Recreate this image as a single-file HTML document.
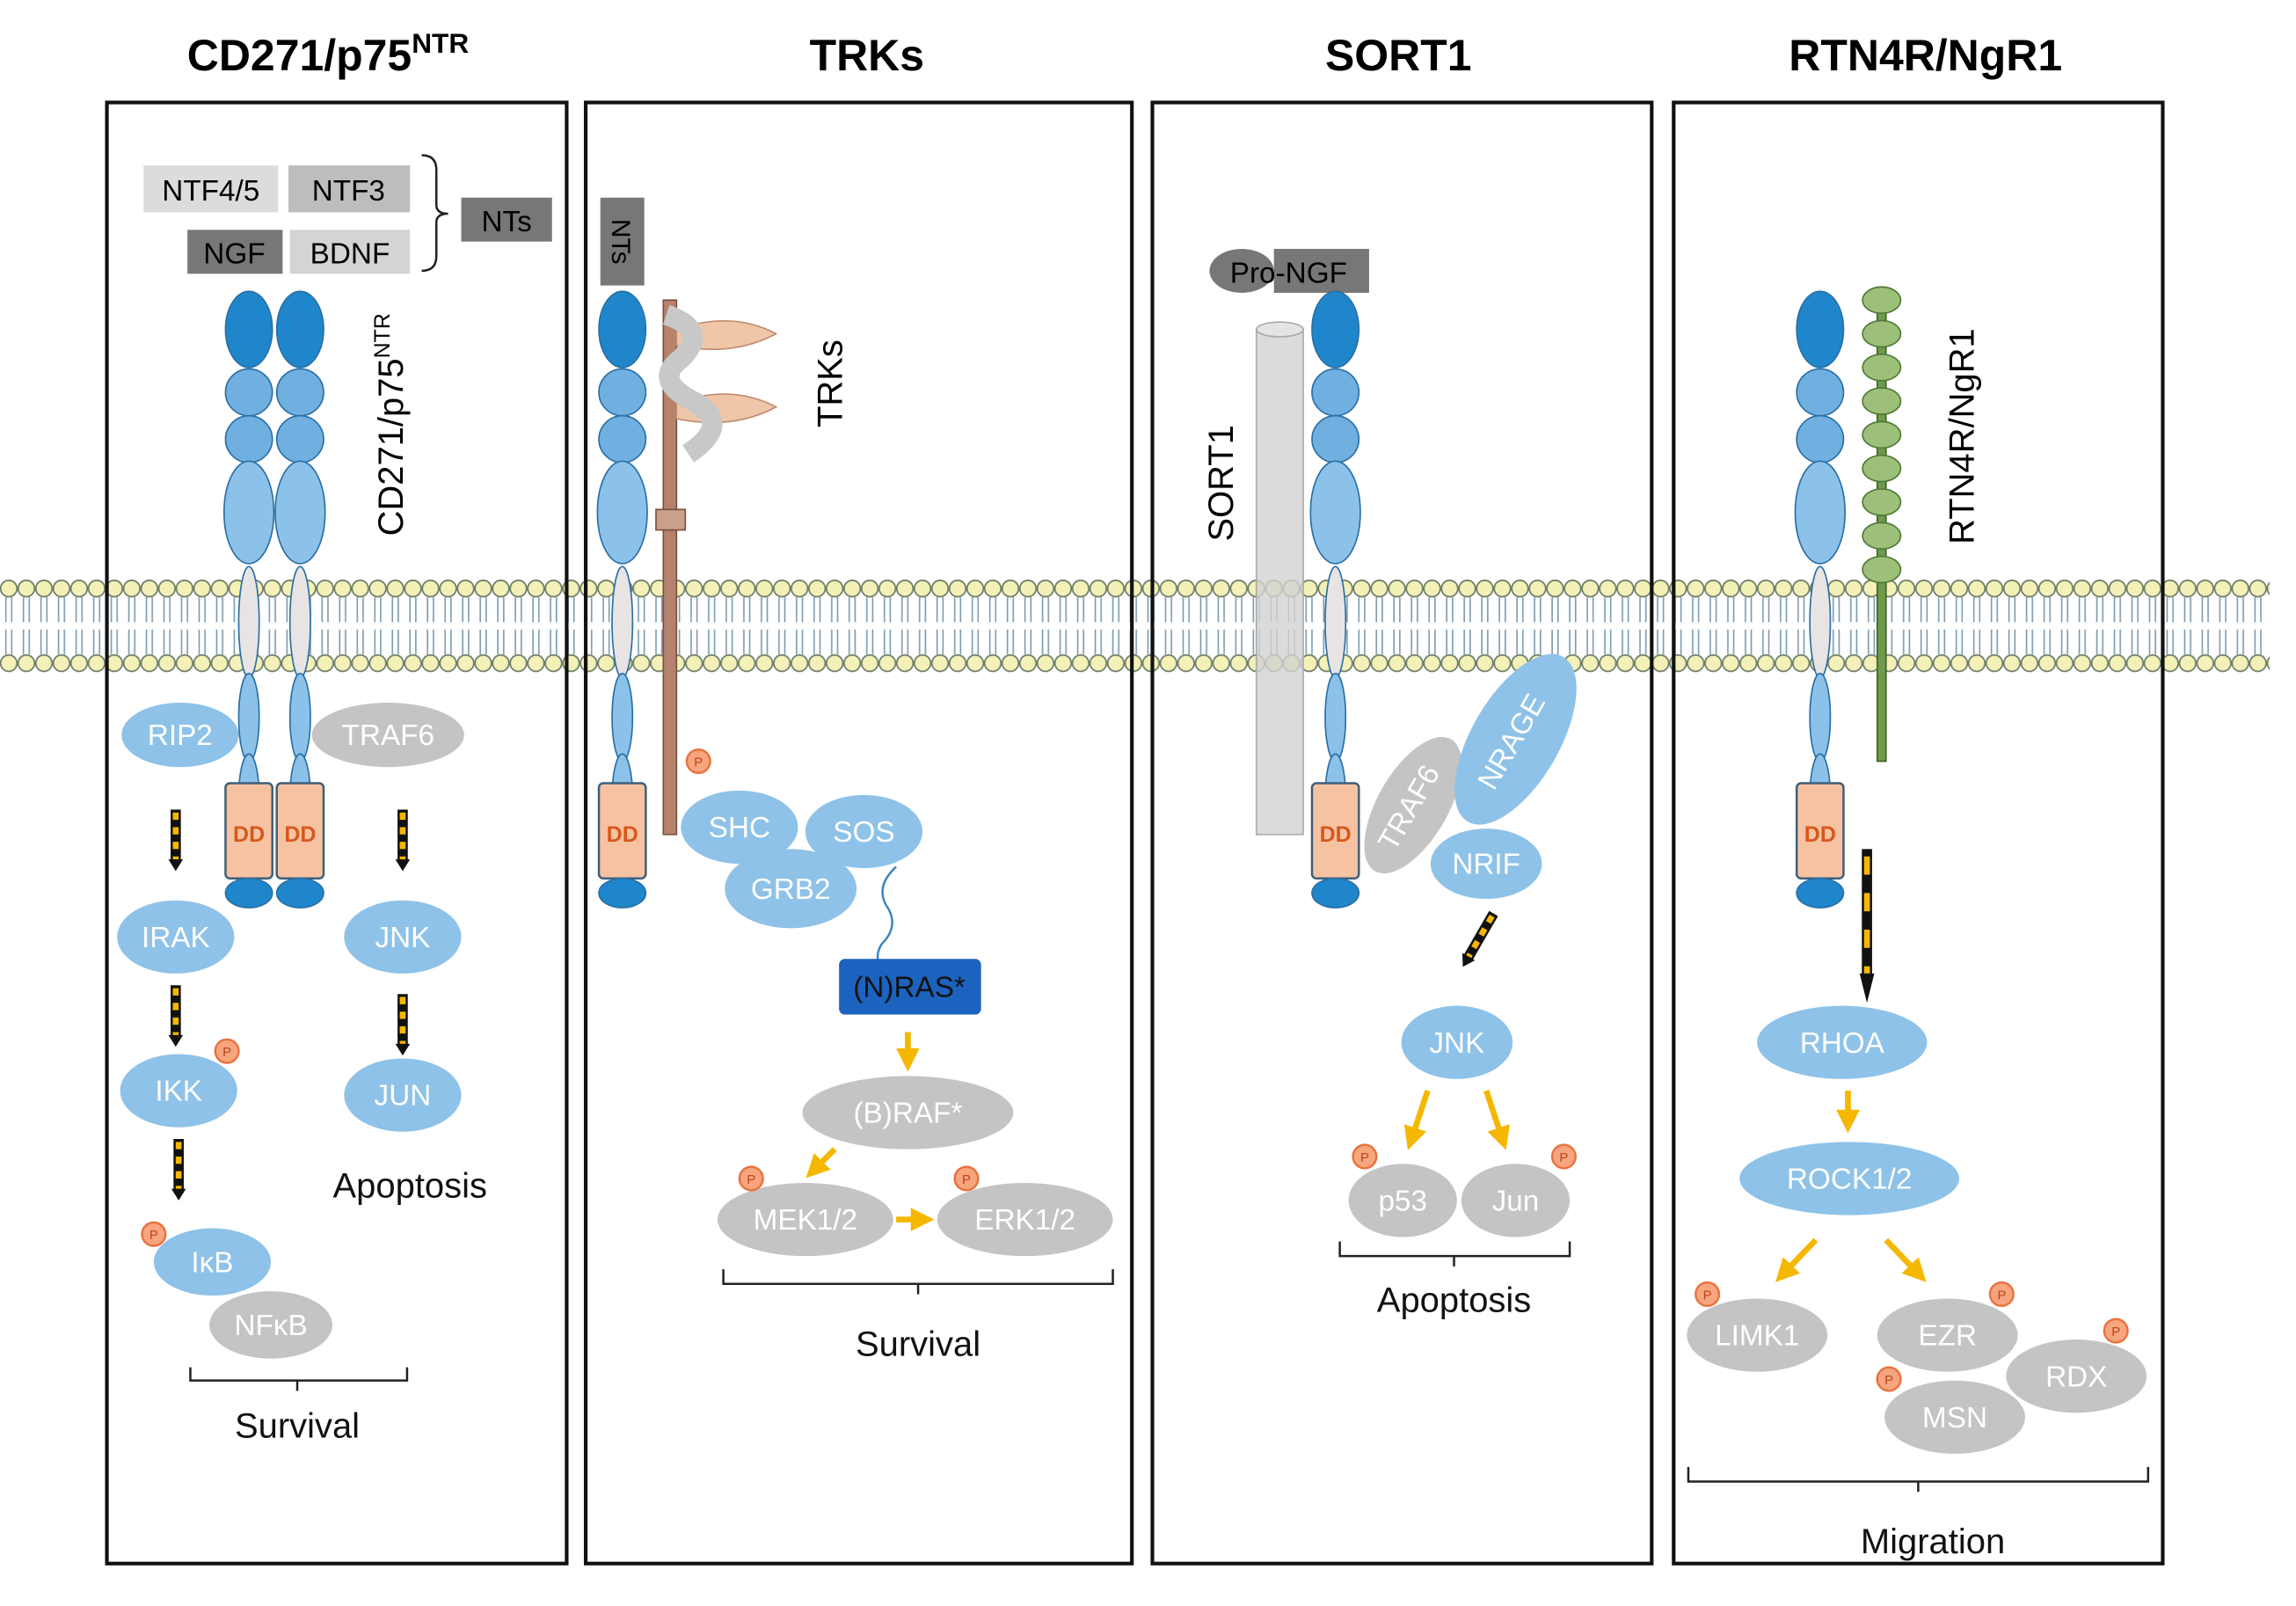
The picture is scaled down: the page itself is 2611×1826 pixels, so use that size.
<!DOCTYPE html>
<html><head><meta charset="utf-8"><style>
html,body{margin:0;padding:0;background:#fff}
svg{display:block}
text{font-family:"Liberation Sans",Arial,sans-serif}
.w{fill:#fff;font-size:20px;text-anchor:middle}
.k{fill:#111;font-size:24px;text-anchor:middle}
</style></head><body>
<svg width="2611" height="1826" viewBox="0 0 1568 1097" preserveAspectRatio="none" xmlns="http://www.w3.org/2000/svg">
<defs>
<pattern id="mem" x="0" y="395" width="12" height="66" patternUnits="userSpaceOnUse">
<circle cx="6" cy="7" r="5.6" fill="#f4f1b8" stroke="#6f7f6a" stroke-width="1.1"/>
<circle cx="6" cy="58" r="5.6" fill="#f4f1b8" stroke="#6f7f6a" stroke-width="1.1"/>
<path d="M4 13 V30 M8 13 V30 M4 35 V52 M8 35 V52" stroke="#7f9db2" stroke-width="1"/>
</pattern>
<marker id="ya" markerWidth="4" markerHeight="4" refX="2" refY="2" orient="auto" markerUnits="strokeWidth"><path d="M0,0 L4,2 L0,4z" fill="#f5b700"/></marker>
<g id="rec">
<ellipse cx="0" cy="-200" rx="16" ry="26" fill="#1f86cc" stroke="#2a6fa5"/>
<circle cx="0" cy="-157" r="16" fill="#6fb0e0" stroke="#2a6fa5"/>
<circle cx="0" cy="-125" r="16" fill="#6fb0e0" stroke="#2a6fa5"/>
<ellipse cx="0" cy="-75" rx="17" ry="35" fill="#8cc2ea" stroke="#2a6fa5"/>
<ellipse cx="0" cy="0" rx="7" ry="38" fill="#e8e4e4" stroke="#2a6fa5"/>
<ellipse cx="0" cy="65" rx="7" ry="30" fill="#8cc2ea" stroke="#2a6fa5"/>
<ellipse cx="0" cy="120" rx="7" ry="30" fill="#8cc2ea" stroke="#2a6fa5"/>
<rect x="-16" y="110" width="32" height="65" rx="3" fill="#f7c2a2" stroke="#3d5f7a" stroke-width="1.5"/>
<text x="0" y="150" font-size="15" font-weight="bold" fill="#d6581c" text-anchor="middle">DD</text>
<ellipse cx="0" cy="185" rx="16" ry="10" fill="#1f86cc" stroke="#2a6fa5"/>
</g>
<g id="P"><circle r="8" fill="#f7a57e" stroke="#e8743f" stroke-width="1.5"/><text y="3.5" font-size="9" fill="#c0441a" text-anchor="middle">P</text></g>
<g id="da1"><line x1="0" y1="0" x2="0" y2="36" stroke="#111" stroke-width="7"/><line x1="0" y1="2" x2="0" y2="34" stroke="#f5b700" stroke-width="4" stroke-dasharray="5 5"/><path d="M-5 34 L5 34 L0 42z" fill="#111"/></g>
</defs>
<rect width="1568" height="1097" fill="#fff"/>
<text x="224" y="48" font-size="30" font-weight="bold" text-anchor="middle">CD271/p75<tspan font-size="19" dy="-12">NTR</tspan></text>
<text x="592" y="48" font-size="30" font-weight="bold" text-anchor="middle">TRKs</text>
<text x="955" y="48" font-size="30" font-weight="bold" text-anchor="middle">SORT1</text>
<text x="1315" y="48" font-size="30" font-weight="bold" text-anchor="middle">RTN4R/NgR1</text>
<rect x="0" y="395" width="1550" height="66" fill="url(#mem)"/>
<g fill="none" stroke="#111" stroke-width="2.5">
<rect x="73" y="70" width="314" height="998"/>
<rect x="400" y="70" width="373" height="998"/>
<rect x="787" y="70" width="341" height="998"/>
<rect x="1143" y="70" width="334" height="998"/>
</g>
<!-- Panel 1 -->
<rect x="98" y="113" width="92" height="32" fill="#dcdcdc"/><text x="144" y="137" font-size="20" text-anchor="middle">NTF4/5</text>
<rect x="197" y="113" width="83" height="32" fill="#bdbdbd"/><text x="238" y="137" font-size="20" text-anchor="middle">NTF3</text>
<rect x="128" y="157" width="65" height="30" fill="#777"/><text x="160" y="180" font-size="20" text-anchor="middle">NGF</text>
<rect x="198" y="157" width="82" height="30" fill="#d4d4d4"/><text x="239" y="180" font-size="20" text-anchor="middle">BDNF</text>
<path d="M288 106 Q298 106 298 116 V140 Q298 146 306 146 Q298 146 298 152 V175 Q298 185 288 185" fill="none" stroke="#222" stroke-width="1.5"/>
<rect x="315" y="135" width="62" height="30" fill="#777"/><text x="346" y="158" font-size="20" text-anchor="middle">NTs</text>
<use href="#rec" x="170" y="425"/><use href="#rec" x="205" y="425"/>
<text transform="translate(275,290) rotate(-90)" font-size="24" text-anchor="middle">CD271/p75<tspan font-size="15" dy="-9">NTR</tspan></text>
<ellipse cx="123" cy="502" rx="40" ry="22" fill="#8ec2e8"/><text class="w" x="123" y="509">RIP2</text>
<ellipse cx="265" cy="502" rx="52" ry="22" fill="#c4c4c4"/><text class="w" x="265" y="509">TRAF6</text>
<use href="#da1" x="120" y="553"/><use href="#da1" x="275" y="553"/>
<ellipse cx="120" cy="640" rx="40" ry="25" fill="#8ec2e8"/><text class="w" x="120" y="647">IRAK</text>
<ellipse cx="275" cy="640" rx="40" ry="25" fill="#8ec2e8"/><text class="w" x="275" y="647">JNK</text>
<use href="#da1" x="120" y="673"/><use href="#da1" x="275" y="679"/>
<ellipse cx="122" cy="745" rx="40" ry="25" fill="#8ec2e8"/><text class="w" x="122" y="752">IKK</text><use href="#P" x="155" y="718"/>
<ellipse cx="275" cy="748" rx="40" ry="25" fill="#8ec2e8"/><text class="w" x="275" y="755">JUN</text>
<text class="k" x="280" y="818">Apoptosis</text>
<use href="#da1" x="122" y="778"/>
<ellipse cx="145" cy="862" rx="40" ry="23" fill="#8ec2e8"/><text class="w" x="145" y="869">IκB</text><use href="#P" x="105" y="843"/>
<ellipse cx="185" cy="905" rx="42" ry="23" fill="#c4c4c4"/><text class="w" x="185" y="912">NFκB</text>
<path d="M130 934 V943 H278 V934 M203 943 V950" fill="none" stroke="#222" stroke-width="1.5"/>
<text class="k" x="203" y="982">Survival</text>
<!-- Panel 2 -->
<rect x="410" y="135" width="30" height="60" fill="#777"/><text transform="translate(418,165) rotate(90)" font-size="18" text-anchor="middle">NTs</text>
<use href="#rec" x="425" y="425"/>
<rect x="453" y="205" width="9" height="365" fill="#b4826d" stroke="#7a5040"/>
<path d="M462 225 Q500 212 530 228 Q500 244 462 236z" fill="#f0c6a8" stroke="#c08c70"/>
<path d="M462 275 Q500 262 530 278 Q500 294 462 286z" fill="#f0c6a8" stroke="#c08c70"/>
<path d="M455 215 q30 10 10 30 q-20 15 10 30 q25 15 -5 35" fill="none" stroke="#c8c8c8" stroke-width="14"/>
<rect x="448" y="348" width="20" height="14" fill="#c9a08a" stroke="#7a5040"/>
<text transform="translate(575,262) rotate(-90)" font-size="24" text-anchor="middle">TRKs</text>
<use href="#P" x="477" y="520"/>
<ellipse cx="505" cy="565" rx="40" ry="25" fill="#8ec2e8"/><text class="w" x="505" y="572">SHC</text>
<ellipse cx="590" cy="568" rx="40" ry="25" fill="#8ec2e8"/><text class="w" x="590" y="575">SOS</text>
<ellipse cx="540" cy="607" rx="45" ry="27" fill="#8ec2e8"/><text class="w" x="540" y="614">GRB2</text>
<path d="M612 592 Q598 605 605 618 Q615 632 602 645 Q598 652 600 657" fill="none" stroke="#3a87c0" stroke-width="1.5"/>
<rect x="573" y="655" width="97" height="38" rx="4" fill="#1c63bf"/><text x="621" y="681" font-size="20" fill="#111" text-anchor="middle">(N)RAS*</text>
<line x1="620" y1="705" x2="620" y2="724" stroke="#f5b700" stroke-width="4" marker-end="url(#ya)"/>
<ellipse cx="620" cy="760" rx="72" ry="25" fill="#c4c4c4"/><text class="w" x="620" y="767">(B)RAF*</text>
<line x1="570" y1="785" x2="556" y2="799" stroke="#f5b700" stroke-width="4" marker-end="url(#ya)"/>
<ellipse cx="550" cy="833" rx="60" ry="25" fill="#c4c4c4"/><text class="w" x="550" y="840">MEK1/2</text>
<ellipse cx="700" cy="833" rx="60" ry="25" fill="#c4c4c4"/><text class="w" x="700" y="840">ERK1/2</text>
<line x1="612" y1="833" x2="630" y2="833" stroke="#f5b700" stroke-width="4" marker-end="url(#ya)"/>
<use href="#P" x="513" y="805"/><use href="#P" x="660" y="805"/>
<path d="M494 867 V877 H760 V867 M627 877 V884" fill="none" stroke="#222" stroke-width="1.5"/>
<text class="k" x="627" y="926">Survival</text>
<!-- Panel 3 -->
<rect x="858" y="225" width="32" height="345" fill="#d2d2d2" fill-opacity="0.8" stroke="#aaa"/>
<ellipse cx="874" cy="225" rx="16" ry="5" fill="#e4e4e4" stroke="#aaa"/>
<text transform="translate(842,330) rotate(-90)" font-size="24" text-anchor="middle">SORT1</text>
<ellipse cx="848" cy="185" rx="22" ry="15" fill="#777"/>
<rect x="870" y="170" width="65" height="30" fill="#777"/><text x="880" y="193" font-size="20" text-anchor="middle">Pro-NGF</text>
<use href="#rec" x="912" y="425"/>
<ellipse cx="965" cy="550" rx="24" ry="52" fill="#c4c4c4" transform="rotate(30 965 550)"/><text transform="translate(968,555) rotate(-60)" class="w">TRAF6</text>
<ellipse cx="1035" cy="505" rx="30" ry="65" fill="#8ec2e8" transform="rotate(30 1035 505)"/><text transform="translate(1038,510) rotate(-60)" class="w">NRAGE</text>
<ellipse cx="1015" cy="590" rx="38" ry="24" fill="#8ec2e8"/><text class="w" x="1015" y="597">NRIF</text>
<g transform="translate(1020,624) rotate(30)"><use href="#da1"/></g>
<ellipse cx="995" cy="712" rx="38" ry="25" fill="#8ec2e8"/><text class="w" x="995" y="719">JNK</text>
<line x1="975" y1="745" x2="964" y2="778" stroke="#f5b700" stroke-width="4" marker-end="url(#ya)"/>
<line x1="1015" y1="745" x2="1026" y2="778" stroke="#f5b700" stroke-width="4" marker-end="url(#ya)"/>
<ellipse cx="958" cy="820" rx="37" ry="25" fill="#c4c4c4"/><text class="w" x="958" y="827">p53</text>
<ellipse cx="1035" cy="820" rx="37" ry="25" fill="#c4c4c4"/><text class="w" x="1035" y="827">Jun</text>
<use href="#P" x="932" y="790"/><use href="#P" x="1068" y="790"/>
<path d="M915 848 V858 H1072 V848 M993 858 V865" fill="none" stroke="#222" stroke-width="1.5"/>
<text class="k" x="993" y="896">Apoptosis</text>
<!-- Panel 4 -->
<use href="#rec" x="1243" y="425"/>
<rect x="1282" y="200" width="6" height="320" fill="#6e9a4a" stroke="#3f6328"/>
<g fill="#9cc07a" stroke="#4f7a35">
<ellipse cx="1285" cy="205" rx="13" ry="9"/><ellipse cx="1285" cy="228" rx="13" ry="9"/><ellipse cx="1285" cy="251" rx="13" ry="9"/><ellipse cx="1285" cy="274" rx="13" ry="9"/><ellipse cx="1285" cy="297" rx="13" ry="9"/><ellipse cx="1285" cy="320" rx="13" ry="9"/><ellipse cx="1285" cy="343" rx="13" ry="9"/><ellipse cx="1285" cy="366" rx="13" ry="9"/><ellipse cx="1285" cy="389" rx="13" ry="9"/>
</g>
<text transform="translate(1348,298) rotate(-90)" font-size="24" text-anchor="middle">RTN4R/NgR1</text>
<g transform="translate(1275,580) scale(1,2.5)"><use href="#da1"/></g>
<ellipse cx="1258" cy="712" rx="58" ry="25" fill="#8ec2e8"/><text class="w" x="1258" y="719">RHOA</text>
<line x1="1262" y1="745" x2="1262" y2="766" stroke="#f5b700" stroke-width="4" marker-end="url(#ya)"/>
<ellipse cx="1263" cy="805" rx="75" ry="25" fill="#8ec2e8"/><text class="w" x="1263" y="812">ROCK1/2</text>
<line x1="1240" y1="847" x2="1218" y2="870" stroke="#f5b700" stroke-width="4" marker-end="url(#ya)"/>
<line x1="1288" y1="847" x2="1310" y2="870" stroke="#f5b700" stroke-width="4" marker-end="url(#ya)"/>
<ellipse cx="1200" cy="912" rx="48" ry="25" fill="#c4c4c4"/><text class="w" x="1200" y="919">LIMK1</text>
<ellipse cx="1330" cy="912" rx="48" ry="25" fill="#c4c4c4"/><text class="w" x="1330" y="919">EZR</text>
<ellipse cx="1418" cy="940" rx="48" ry="25" fill="#c4c4c4"/><text class="w" x="1418" y="947">RDX</text>
<ellipse cx="1335" cy="968" rx="48" ry="25" fill="#c4c4c4"/><text class="w" x="1335" y="975">MSN</text>
<use href="#P" x="1166" y="884"/><use href="#P" x="1367" y="884"/><use href="#P" x="1445" y="909"/><use href="#P" x="1290" y="942"/>
<path d="M1153 1002 V1012 H1467 V1002 M1310 1012 V1019" fill="none" stroke="#222" stroke-width="1.5"/>
<text class="k" x="1320" y="1061">Migration</text>
</svg>
</body></html>
